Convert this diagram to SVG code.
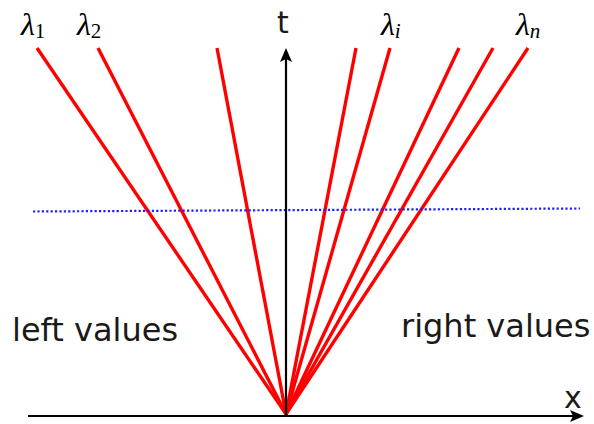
<svg xmlns="http://www.w3.org/2000/svg" width="594" height="424" viewBox="0 0 594 424">
<style>
.ray{stroke:#ff0000;stroke-width:3.4;fill:none;stroke-linecap:butt}
.axis{stroke:#000;stroke-width:2.2;fill:none}
.lab{font-family:"DejaVu Sans",sans-serif;font-size:30px;fill:#1a1a1a}
.big{font-size:32px}
.lam{font-family:"Liberation Serif",serif;font-style:italic;font-size:32px;fill:#000}
.sub{font-family:"Liberation Serif",serif;font-style:normal;font-size:21px;fill:#000}
.subi{font-family:"Liberation Serif",serif;font-style:italic;font-size:21px;fill:#000}
</style>
<rect width="594" height="424" fill="#fff"/>
<g id="connectors">
<line class="ray" x1="37" y1="48" x2="286" y2="414"/>
<line class="ray" x1="98" y1="48" x2="286" y2="414"/>
<line class="ray" x1="217" y1="48" x2="286" y2="414"/>
<line class="ray" x1="356" y1="48" x2="286" y2="414"/>
<line class="ray" x1="390" y1="48" x2="286" y2="414"/>
<line class="ray" x1="459" y1="48" x2="286" y2="414"/>
<line class="ray" x1="493" y1="48" x2="286" y2="414"/>
<line class="ray" x1="528" y1="48" x2="286" y2="414"/>
<line x1="33" y1="211.5" x2="580" y2="208.5" stroke="#2020ff" stroke-width="2.2" stroke-dasharray="2.2,2.2"/>
</g>
<g id="x-axis">
<line class="axis" x1="28" y1="416" x2="574" y2="416"/>
<path d="M584,416 L570,410 L573,416 L570,422 Z" fill="#000"/>
<text class="lab" x="564" y="408">x</text>
</g>
<g id="t-axis">
<line class="axis" x1="286" y1="416" x2="286" y2="58"/>
<path d="M286,48 L280,62 L286,59 L292,62 Z" fill="#000"/>
<text class="lab" x="277" y="33">t</text>
</g>
<g id="labels">
<text class="lam" x="21" y="35">λ<tspan class="sub" dy="3">1</tspan></text>
<text class="lam" x="77" y="35">λ<tspan class="sub" dy="3">2</tspan></text>
<text class="lam" x="381" y="35">λ<tspan class="subi" dy="3">i</tspan></text>
<text class="lam" x="516" y="35">λ<tspan class="subi" dy="3">n</tspan></text>
<text class="lab big" x="12" y="341">left values</text>
<text class="lab big" x="401" y="337">right values</text>
</g>
</svg>
